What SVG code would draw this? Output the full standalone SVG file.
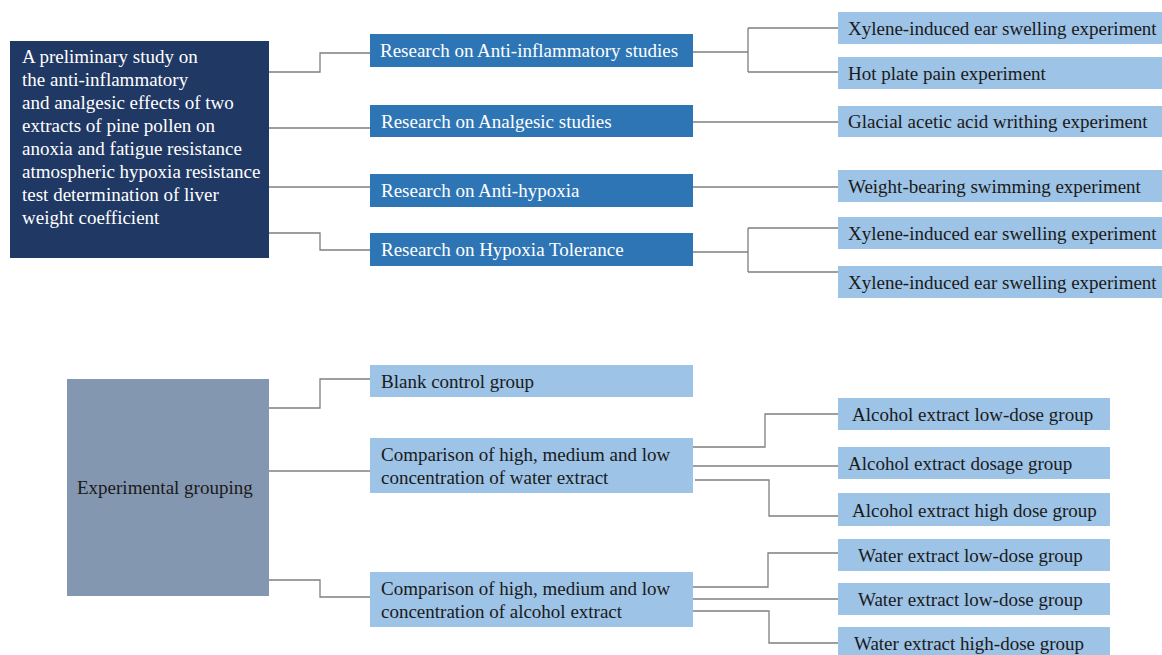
<svg xmlns="http://www.w3.org/2000/svg" width="1162" height="655" viewBox="0 0 1162 655" font-family="'Liberation Serif', 'Times New Roman', serif" font-size="19">
<style>
text{font-family:"Liberation Serif","Times New Roman",serif;font-size:19px;}
.w{fill:#ffffff;}
.k{fill:#1a1a1a;}
.navy{fill:#203864;}
.mid{fill:#2e75b6;}
.lt{fill:#9dc3e6;}
.gr{fill:#8497b0;}
.c path{fill:none;stroke:#7f7f7f;stroke-width:1.3;}
</style>
<rect width="1162" height="655" fill="#ffffff"/>
<g class="c" id="connectors">
<path d="M269 72H320V53H370"/>
<path d="M269 128H370"/>
<path d="M269 187H370"/>
<path d="M269 233H320V250H370"/>
<path d="M693 52H748M748 28V72M748 28H838M748 72H838"/>
<path d="M693 122H838"/>
<path d="M693 187H838"/>
<path d="M693 252H748M748 228V272M748 228H838M748 272H838"/>
<path d="M269 408H320V379H370"/>
<path d="M269 471H370"/>
<path d="M269 580H320V597H370"/>
<path d="M693 447H765V414H838"/>
<path d="M693 466H838"/>
<path d="M695 480H769V516H838"/>
<path d="M693 587H768V553H838"/>
<path d="M693 599H838"/>
<path d="M693 611H769V643H838"/>
</g>
<g id="main"><rect class="navy" x="10" y="41" width="259" height="217"/>
<text class="w" x="22"><tspan x="22" y="63">A preliminary study on</tspan><tspan x="22" y="86">the anti-inflammatory</tspan><tspan x="22" y="109">and analgesic effects of two</tspan><tspan x="22" y="132">extracts of pine pollen on</tspan><tspan x="22" y="155">anoxia and fatigue resistance</tspan><tspan x="22" y="178">atmospheric hypoxia resistance</tspan><tspan x="22" y="201">test determination of liver</tspan><tspan x="22" y="224">weight coefficient</tspan></text></g>
<g id="r1"><rect class="mid" x="370" y="34" width="323" height="33"/><text class="w" x="380" y="57">Research on Anti-inflammatory studies</text></g>
<g id="r2"><rect class="mid" x="370" y="105" width="323" height="32"/><text class="w" x="381" y="128">Research on Analgesic studies</text></g>
<g id="r3"><rect class="mid" x="370" y="174" width="323" height="33"/><text class="w" x="381" y="197">Research on Anti-hypoxia</text></g>
<g id="r4"><rect class="mid" x="370" y="233" width="323" height="33"/><text class="w" x="381" y="256">Research on Hypoxia Tolerance</text></g>
<g id="e1"><rect class="lt" x="838" y="12" width="324" height="32"/><text class="k" x="848" y="35">Xylene-induced ear swelling experiment</text></g>
<g id="e2"><rect class="lt" x="838" y="57" width="324" height="32"/><text class="k" x="848" y="80">Hot plate pain experiment</text></g>
<g id="e3"><rect class="lt" x="838" y="106" width="324" height="31"/><text class="k" x="848" y="128">Glacial acetic acid writhing experiment</text></g>
<g id="e4"><rect class="lt" x="838" y="170" width="324" height="32"/><text class="k" x="848" y="193">Weight-bearing swimming experiment</text></g>
<g id="e5"><rect class="lt" x="838" y="217" width="324" height="32"/><text class="k" x="848" y="240">Xylene-induced ear swelling experiment</text></g>
<g id="e6"><rect class="lt" x="838" y="266" width="324" height="32"/><text class="k" x="848" y="289">Xylene-induced ear swelling experiment</text></g>
<g id="grouping"><rect class="gr" x="67" y="379" width="202" height="217"/><text class="k" x="77" y="494">Experimental grouping</text></g>
<g id="blank"><rect class="lt" x="370" y="365" width="323" height="32"/><text class="k" x="381" y="388">Blank control group</text></g>
<g id="water"><rect class="lt" x="370" y="438" width="323" height="55"/><text class="k"><tspan x="381" y="461">Comparison of high, medium and low</tspan><tspan x="381" y="484">concentration of water extract</tspan></text></g>
<g id="alcohol"><rect class="lt" x="370" y="572" width="323" height="55"/><text class="k"><tspan x="381" y="595">Comparison of high, medium and low</tspan><tspan x="381" y="618">concentration of alcohol extract</tspan></text></g>
<g id="g1"><rect class="lt" x="838" y="398" width="272" height="32"/><text class="k" x="852" y="421">Alcohol extract low-dose group</text></g>
<g id="g2"><rect class="lt" x="838" y="447" width="272" height="32"/><text class="k" x="848" y="470">Alcohol extract dosage group</text></g>
<g id="g3"><rect class="lt" x="838" y="493" width="272" height="33"/><text class="k" x="852" y="517">Alcohol extract high dose group</text></g>
<g id="g4"><rect class="lt" x="838" y="539" width="272" height="32"/><text class="k" x="858" y="562">Water extract low-dose group</text></g>
<g id="g5"><rect class="lt" x="838" y="583" width="272" height="32"/><text class="k" x="858" y="606">Water extract low-dose group</text></g>
<g id="g6"><rect class="lt" x="838" y="627" width="272" height="32"/><text class="k" x="854" y="650">Water extract high-dose group</text></g>
</svg>
